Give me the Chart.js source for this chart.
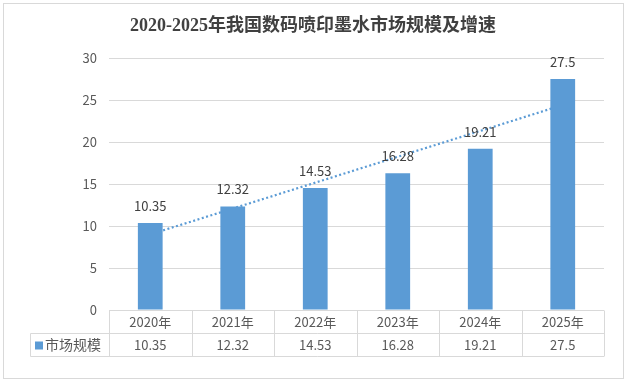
<!DOCTYPE html>
<html>
<head>
<meta charset="utf-8">
<script src="https://cdn.jsdelivr.net/npm/chart.js@4.4.1/dist/chart.umd.min.js"></script>
<style>
  html, body { margin: 0; padding: 0; background: #fff; }
  #wrap { width: 627px; height: 382px; position: relative; }
</style>
</head>
<body>
<div id="wrap"><canvas id="chart" width="627" height="382"></canvas></div>
<script>
// chart data
const years = ["2020年", "2021年", "2022年", "2023年", "2024年", "2025年"];
const marketSize = [10.35, 12.32, 14.53, 16.28, 19.21, 27.5];
const trendValues = [9.0, null, null, null, null, 24.4]; // dotted trendline
const yTicks = [0, 5, 10, 15, 20, 25, 30];
const seriesName = "市场规模";
const chartTitle = "2020-2025年我国数码喷印墨水市场规模及增速";

const BLUE = "#5b9bd5";
const GRID = "#d9d9d9";
const TEXT = "#595959";
const FONT = '"Noto Sans CJK SC", "Noto Sans", sans-serif';

// title, outer border, bar labels and the data table under the plot
const extrasPlugin = {
  id: "extras",
  afterDraw(chart) {
    const ctx = chart.ctx;
    const area = chart.chartArea;
    const x = chart.scales.x;
    ctx.save();

    // outer frame
    ctx.strokeStyle = GRID;
    ctx.lineWidth = 1;
    ctx.strokeRect(3.5, 3.5, 620, 375);

    // title
    ctx.fillStyle = "#404040";
    ctx.font = 'bold 18px "Liberation Serif", "Noto Sans CJK SC", serif';
    ctx.textAlign = "center";
    ctx.textBaseline = "middle";
    ctx.fillText(chartTitle, 313, 26);

    // value labels over bars
    const bars = chart.getDatasetMeta(0).data;
    ctx.fillStyle = "#404040";
    ctx.font = "13px " + FONT;
    bars.forEach((bar, i) => {
      ctx.fillText(String(marketSize[i]), bar.x, bar.y - 17);
    });

    // data table
    const top = area.bottom + 0.5;
    const mid = top + 23;
    const bot = top + 46;
    const left = 30.5;
    const step = (area.right - area.left) / years.length;
    ctx.strokeStyle = GRID;
    ctx.beginPath();
    ctx.moveTo(area.left, top); ctx.lineTo(area.right, top);
    ctx.moveTo(left, mid); ctx.lineTo(area.right, mid);
    ctx.moveTo(left, bot); ctx.lineTo(area.right, bot);
    ctx.moveTo(left, mid); ctx.lineTo(left, bot);
    for (let i = 0; i <= years.length; i++) {
      const lx = Math.round(area.left + i * step) + 0.5;
      ctx.moveTo(lx, top); ctx.lineTo(lx, bot);
    }
    ctx.stroke();

    ctx.fillStyle = TEXT;
    ctx.font = "13px " + FONT;
    years.forEach((yr, i) => {
      const cx = x.getPixelForValue(i);
      ctx.fillText(yr, cx, top + 11.5);
      ctx.fillText(String(marketSize[i]), cx, mid + 11.5);
    });

    // legend key
    ctx.fillStyle = BLUE;
    ctx.fillRect(35, mid + 8, 8, 8);
    ctx.fillStyle = TEXT;
    ctx.font = "14px " + FONT;
    ctx.textAlign = "left";
    ctx.fillText(seriesName, 45, mid + 11.5);

    ctx.restore();
  }
};

const ctx = document.getElementById("chart").getContext("2d");
const myChart = new Chart(ctx, {
  type: "bar",
  data: {
    labels: years,
    datasets: [
      {
        type: "bar",
        label: seriesName,
        data: marketSize,
        backgroundColor: BLUE,
        barPercentage: 0.3,
        categoryPercentage: 1,
        order: 1
      },
      {
        type: "line",
        label: "趋势线",
        data: trendValues,
        spanGaps: true,
        borderColor: BLUE,
        borderWidth: 2.2,
        borderDash: [2, 2.5],
        pointRadius: 0,
        fill: false,
        order: 2
      }
    ]
  },
  options: {
    responsive: false,
    animation: false,
    layout: { padding: { top: 58, bottom: 72, left: 0, right: 23 } },
    plugins: {
      legend: { display: false },
      title: { display: false },
      tooltip: { enabled: false }
    },
    scales: {
      x: {
        display: false,
        offset: true
      },
      y: {
        min: 0,
        max: 30,
        afterFit(scale) { scale.width = 109; },
        afterBuildTicks(scale) { scale.ticks = yTicks.map(v => ({ value: v })); },
        border: { display: false },
        grid: { color: GRID, drawTicks: false },
        ticks: {
          color: TEXT,
          padding: 12,
          font: { family: FONT, size: 13 }
        }
      }
    }
  },
  plugins: [extrasPlugin]
});
</script>
</body>
</html>
